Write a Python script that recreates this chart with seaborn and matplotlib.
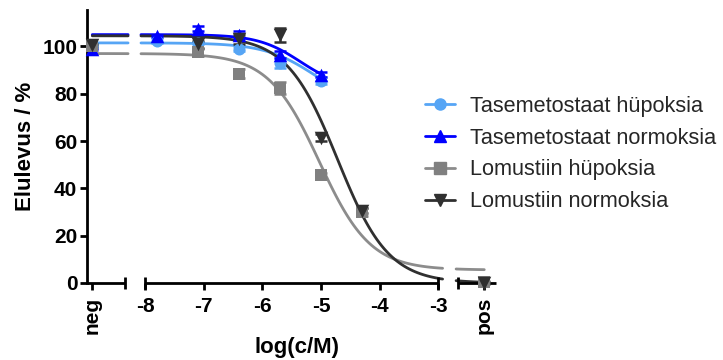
import numpy as np
import pandas as pd
import matplotlib
matplotlib.use("Agg")
import matplotlib.pyplot as plt
from matplotlib.lines import Line2D
import seaborn as sns

# -------------------------------
# Data
# -------------------------------
# dose groups: negative control, log(c/M) values, positive control
dose_groups = ["neg", -7.8, -7.1, -6.4, -5.7, -5.0, -4.3, "pos"]

series_names = ["Tasemetostaat hüpoksia", "Tasemetostaat normoksia",
                "Lomustiin hüpoksia", "Lomustiin normoksia"]

tase_hyp = [100.0, 102.5, 101.5, 99.0, 93.0, 85.5, None, None]
tase_norm = [99.0, 104.5, 107.5, 105.0, 96.5, 88.0, None, None]
lom_hyp = [100.0, None, 97.5, 88.5, 82.5, 45.5, 30.0, 0.5]
lom_norm = [100.5, None, 101.0, 103.0, 105.0, 61.5, 30.5, 0.0]

tase_hyp_err = [0.5, 1.0, 0.5, 1.0, 2.0, 1.5, None, None]
tase_norm_err = [0.5, 0.5, 1.0, 1.5, 1.5, 1.0, None, None]
lom_hyp_err = [0.5, None, 1.5, 2.0, 2.5, 1.0, 1.5, 0.5]
lom_norm_err = [0.5, None, 1.5, 2.0, 3.0, 1.5, 1.0, 0.5]

# fitted curve parameters: top, bottom, logIC50, hill slope
fit_tops = [101.5, 105.0, 97.0, 104.5]
fit_bottoms = [74.0, 82.0, 5.5, 0.0]
fit_log_ic50 = [-5.1, -5.35, -5.03, -4.72]
fit_hills = [1.0, 1.2, 1.0, 1.0]

x_tick_labels = ["neg", "-8", "-7", "-6", "-5", "-4", "-3", "pos"]

# -------------------------------
# Layout / style
# -------------------------------
NEG_X, POS_X = -8.9, -2.22
colors = ["#56A5F5", "#0000FF", "#808080", "#303030"]
curve_colors = ["#56A5F5", "#0000FF", "#8C8C8C", "#303030"]
markers = ["o", "^", "s", "v"]
marker_sizes = [75, 95, 75, 95]

sns.set_theme(style="ticks")
plt.rcParams["font.family"] = ["Liberation Sans", "DejaVu Sans"]

fig = plt.figure(figsize=(7.23, 3.6), dpi=100)
W, H = 723, 360
ax = fig.add_axes([87 / W, 1 - 283 / H, (496 - 87) / W, (283 - 10) / H])


def to_x(g):
    if g == "neg":
        return NEG_X
    if g == "pos":
        return POS_X
    return g


def four_pl(x, top, bottom, logic50, hill):
    return bottom + (top - bottom) / (1 + 10 ** (hill * (x - logic50)))


# fitted curves, drawn in the broken-axis segments
rows = []
for i, name in enumerate(series_names):
    has_pos = i >= 2
    segs = [(NEG_X, -8.29), (-8.07, -2.93 if has_pos else -4.95)]
    if has_pos:
        segs.append((-2.70, POS_X))
    for k, (a, b) in enumerate(segs):
        xs = np.linspace(a, b, 120)
        ys = four_pl(xs, fit_tops[i], fit_bottoms[i], fit_log_ic50[i], fit_hills[i])
        for xv, yv in zip(xs, ys):
            rows.append({"x": xv, "y": yv, "series": name, "seg": k})
curves = pd.DataFrame(rows)

sns.lineplot(data=curves, x="x", y="y", hue="series", units="seg",
             estimator=None, sort=False, palette=dict(zip(series_names, curve_colors)),
             linewidth=2.0, legend=False, ax=ax, clip_on=False)

# data points with error bars
all_values = [tase_hyp, tase_norm, lom_hyp, lom_norm]
all_errs = [tase_hyp_err, tase_norm_err, lom_hyp_err, lom_norm_err]
pts = []
for i, name in enumerate(series_names):
    for g, v, e in zip(dose_groups, all_values[i], all_errs[i]):
        if v is not None:
            pts.append({"x": to_x(g), "y": v, "err": e, "series": name})
pts = pd.DataFrame(pts)

for i, name in enumerate(series_names):
    d = pts[pts["series"] == name]
    ax.errorbar(d["x"], d["y"], yerr=d["err"], fmt="none", ecolor=colors[i],
                elinewidth=1.8, capsize=4, capthick=1.8, clip_on=False, zorder=3)
    sns.scatterplot(data=d, x="x", y="y", marker=markers[i], s=marker_sizes[i],
                    color=colors[i], edgecolor=colors[i], linewidth=0,
                    ax=ax, clip_on=False, zorder=4)

# axes
ax.set_xlim(-8.99, -2.02)
ax.set_ylim(0, 115.4)
ax.set_yticks([0, 20, 40, 60, 80, 100])
ax.set_xticks([NEG_X, -8, -7, -6, -5, -4, -3, POS_X])
ax.set_xticklabels(x_tick_labels)
for lab in ax.get_xticklabels():
    lab.set_fontweight("bold")
    if lab.get_text() in ("neg", "pos"):
        lab.set_rotation(90)
        lab.set_va("top")
for lab in ax.get_yticklabels():
    lab.set_fontweight("bold")
ax.tick_params(axis="both", width=2, length=5, direction="out",
               labelsize=15, color="black", labelcolor="black")
ax.tick_params(axis="y", pad=2)
ax.tick_params(axis="x", pad=5)

for s in ["top", "right", "bottom"]:
    ax.spines[s].set_visible(False)
ax.spines["left"].set_linewidth(2)
ax.spines["left"].set_color("black")

# broken x axis: three segments with end bars
for a, b in [(-8.99, -8.34), (-8.0, -3.0), (-2.66, -2.02)]:
    ax.plot([a, b], [0, 0], color="black", lw=2, clip_on=False,
            solid_capstyle="butt", zorder=2)
ax.plot([-8.34, -8.0, -3.0, -2.66], [0, 0, 0, 0], ls="none", marker="|",
        markersize=9, mew=2, color="black", clip_on=False, zorder=2)

ax.set_xlabel("log(c/M)", fontsize=16, fontweight="bold", color="black")
ax.set_ylabel("Elulevus / %", fontsize=16, fontweight="bold", color="black")
ax.xaxis.set_label_coords((297.5 - 87) / 409, -(337 - 283) / 273)
ax.yaxis.set_label_coords(-(87 - 36) / 409, 0.5)

handles = [Line2D([0], [0], color=curve_colors[i], lw=2, marker=markers[i],
                  markersize=8, markerfacecolor=colors[i], markeredgecolor=colors[i])
           for i in range(4)]
fig.legend(handles, series_names, loc="center left",
           bbox_to_anchor=(425 / W, 1 - 154 / H), frameon=False,
           fontsize=15.6, handlelength=1.4, handletextpad=0.7,
           labelspacing=0.5, borderpad=0, borderaxespad=0)

fig.savefig("out.png", dpi=100)
